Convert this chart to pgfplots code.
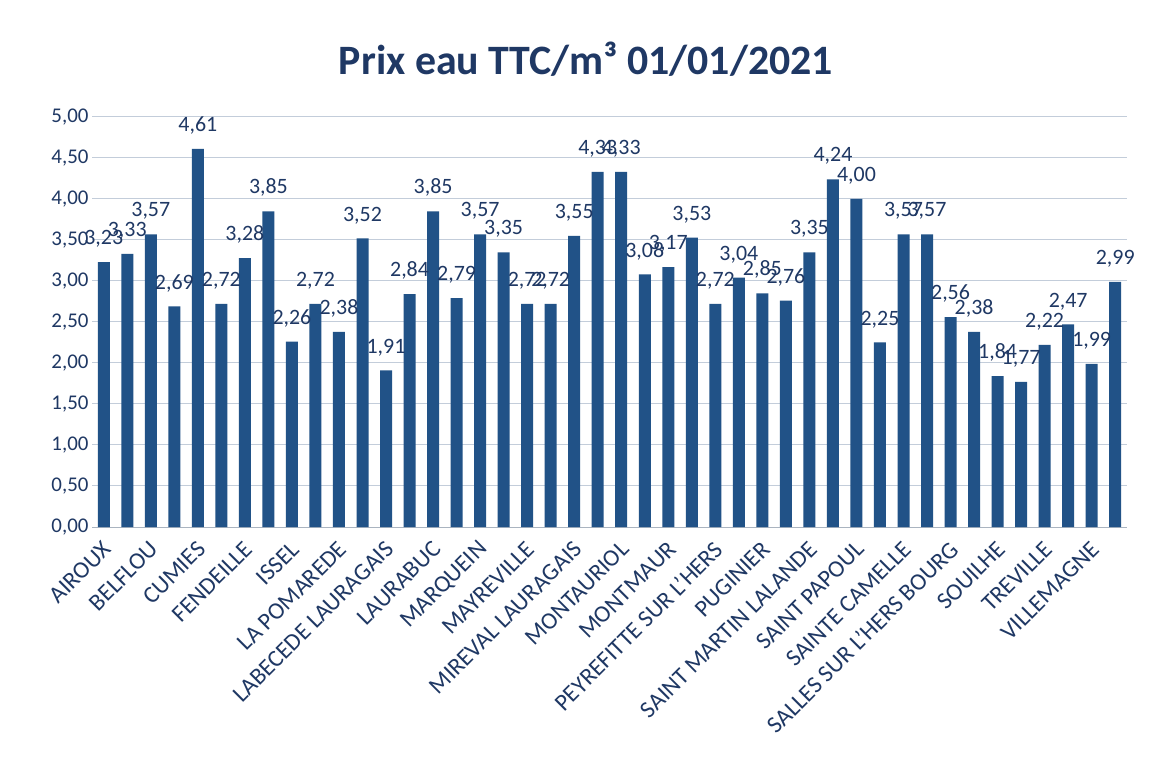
\documentclass[border=0pt]{standalone}
\usepackage{pgfplots}
\pgfplotsset{compat=1.18}
\usepackage{fontspec}
\setmainfont{Carlito}
\definecolor{barblue}{RGB}{33,82,135}
\definecolor{txt}{RGB}{31,56,100}
\definecolor{gridc}{RGB}{195,205,218}
\definecolor{axc}{RGB}{170,180,192}
\pgfplotstableread{
x y
0 3.23
1 3.33
2 3.57
3 2.69
4 4.61
5 2.72
6 3.28
7 3.85
8 2.26
9 2.72
10 2.38
11 3.52
12 1.91
13 2.84
14 3.85
15 2.79
16 3.57
17 3.35
18 2.72
19 2.72
20 3.55
21 4.33
22 4.33
23 3.08
24 3.17
25 3.53
26 2.72
27 3.04
28 2.85
29 2.76
30 3.35
31 4.24
32 4.00
33 2.25
34 3.57
35 3.57
36 2.56
37 2.38
38 1.84
39 1.77
40 2.22
41 2.47
42 1.99
43 2.99
}\prix
\begin{document}
\begin{tikzpicture}
\useasboundingbox (0,0) rectangle (1150bp,761bp);
\fill[white] (0,0) rectangle (1150bp,761bp);
\node[font=\fontsize{42}{50}\selectfont\bfseries, text=txt, anchor=base] at (586bp,686bp) {Prix eau TTC/m³ 01/01/2021};
\begin{axis}[
  at={(92bp,234bp)}, anchor=south west,
  scale only axis, width=1035bp, height=410bp,
  xmin=-0.5, xmax=43.5, ymin=0, ymax=5,
  ytick={0,0.5,...,5},
  xtick={0,2,...,42},
  xticklabels={AIROUX,BELFLOU,CUMIES,FENDEILLE,ISSEL,LA POMAREDE,LABECEDE LAURAGAIS,LAURABUC,MARQUEIN,MAYREVILLE,MIREVAL LAURAGAIS,MONTAURIOL,MONTMAUR,PEYREFITTE SUR L'HERS,PUGINIER,SAINT MARTIN LALANDE,SAINT PAPOUL,SAINTE CAMELLE,SALLES SUR L'HERS BOURG,SOUILHE,TREVILLE,VILLEMAGNE},
  major tick length=0,
  axis x line*=bottom, axis y line*=left,
  axis line style={-},
  x axis line style={draw=axc, line width=1bp},
  y axis line style={draw=none},
  ymajorgrids, grid style={draw=gridc, line width=1bp},
  yticklabel style={font=\fontsize{21}{25}\selectfont, text=txt, /pgf/number format/.cd, fixed, fixed zerofill, precision=2, use comma, assume math mode=true},
  xticklabel style={font=\fontsize{24}{28}\selectfont, text=txt, xshift=6bp, yshift=-16bp, rotate=45, anchor=east},
  clip=false,
  ybar, bar width=12bp,
  nodes near coords={\pgfmathprintnumber[fixed,fixed zerofill,precision=2,use comma,assume math mode=true]{\pgfplotspointmeta}},
  every node near coord/.append style={font=\fontsize{22}{26}\selectfont, text=txt, anchor=south, yshift=11bp},
]
\addplot[fill=barblue, draw=none] table[x=x,y=y] {\prix};
\end{axis}
\end{tikzpicture}
\end{document}
